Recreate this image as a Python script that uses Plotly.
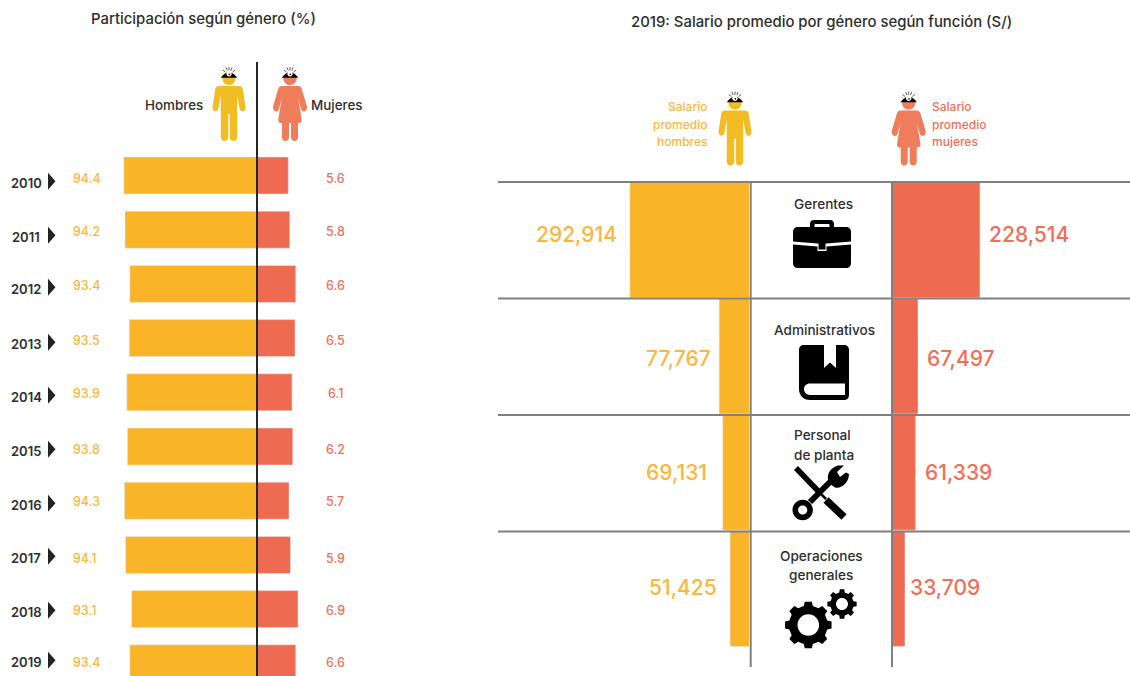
import math
import re

import plotly.graph_objects as go

# Participation by gender, 2010-2019 (%)
years = ["2010", "2011", "2012", "2013", "2014", "2015", "2016", "2017", "2018", "2019"]
men_share = [94.4, 94.2, 93.4, 93.5, 93.9, 93.8, 94.3, 94.1, 93.1, 93.4]
women_share = [5.6, 5.8, 6.6, 6.5, 6.1, 6.2, 5.7, 5.9, 6.9, 6.6]

# 2019 average pay by gender and job function (S/)
functions = ["Gerentes", "Administrativos", "Personal de planta", "Operaciones generales"]
men_pay = [292914, 77767, 69131, 51425]
women_pay = [228514, 67497, 61339, 33709]

W, H = 1130, 676
FONT = "Inter"
AMBER = "#F9B428"
CORAL = "#EE6B52"
AMBER_TEXT = "#FBB73C"
CORAL_TEXT = "#EF6F58"
FIG_AMBER = "#F2BC24"
FIG_CORAL = "#EF7C5A"
INK = "#2E2E2E"
RULE = "#808080"


def px(x):
    return x / W


def py(y):
    return 1 - y / H


def path_px(d):
    """Turn an SVG path written in page pixels into paper coordinates."""
    is_x = True

    def swap(m):
        nonlocal is_x
        v = float(m.group())
        r = px(v) if is_x else py(v)
        is_x = not is_x
        return f"{r:.5f}"

    return re.sub(r"-?\d+(?:\.\d+)?", swap, d)


shapes, notes = [], []


def add_path(d, fill="#000000"):
    shapes.append(dict(type="path", path=path_px(d), xref="paper", yref="paper",
                       fillcolor=fill, line=dict(width=0), layer="above"))


def add_line(x0, y0, x1, y1, color=RULE, width=2):
    shapes.append(dict(type="line", xref="paper", yref="paper", x0=px(x0), y0=py(y0),
                       x1=px(x1), y1=py(y1), line=dict(color=color, width=width), layer="above"))


def circle(cx, cy, r):
    k = 0.5523 * r
    return (f"M{cx - r},{cy} C{cx - r},{cy - k} {cx - k},{cy - r} {cx},{cy - r} "
            f"C{cx + k},{cy - r} {cx + r},{cy - k} {cx + r},{cy} "
            f"C{cx + r},{cy + k} {cx + k},{cy + r} {cx},{cy + r} "
            f"C{cx - k},{cy + r} {cx - r},{cy + k} {cx - r},{cy} Z")


def label(text, x, y, size=13, color=INK, anchor="center", weight=500):
    notes.append(dict(text=text, x=px(x), y=py(y), xref="paper", yref="paper",
                      xanchor=anchor, yanchor="middle", showarrow=False,
                      font=dict(family=FONT, size=size, color=color, weight=weight)))


def helmet(cx, top, color):
    add_path(circle(cx, top - 7.6, 6.6), color)
    add_path(f"M{cx - 8.2},{top - 8.2} C{cx - 6},{top - 11.6} {cx - 3},{top - 13.6} {cx},{top - 13.6} "
             f"C{cx + 3},{top - 13.6} {cx + 6},{top - 11.6} {cx + 8.2},{top - 8.2} Z")
    add_path(circle(cx, top - 12.2, 2.7), "#FFFFFF")
    add_path(circle(cx + 0.3, top - 11.6, 0.8))
    for dx0, dy0, dx1, dy1 in [(-3.6, -14, -6.2, -16), (-1.8, -15.4, -3, -18.6), (0, -15.6, 0, -19),
                               (1.8, -15.4, 3, -18.6), (3.6, -14, 6.2, -16)]:
        add_line(cx + dx0, top + dy0, cx + dx1, top + dy1, "#333333", 0.8)


def mirrored(cx, top, half):
    """Build a closed outline from the right half of a symmetric silhouette."""
    def p(x, y):
        return f"{cx + x},{top + y}"

    right = [f"M{p(*half[0])}"]
    for seg in half[1:]:
        if len(seg) == 2:
            right.append(f"L{p(*seg)}")
        else:
            right.append("C" + " ".join(p(seg[i], seg[i + 1]) for i in (0, 2, 4)))
    pts = [half[0]]
    for seg in half[1:]:
        pts.append(seg[-2:])
    left = []
    for i in range(len(half) - 1, 0, -1):
        seg = half[i]
        end = pts[i - 1]
        if len(seg) == 2:
            left.append(f"L{p(-end[0], end[1])}")
        else:
            left.append(f"C{p(-seg[2], seg[3])} {p(-seg[0], seg[1])} {p(-end[0], end[1])}")
    return " ".join(right + left) + " Z"


MAN_OUTLINE = [
    (0, 0), (10, 0), (12.4, 0, 13.4, 1.4, 13.8, 3.5), (16.4, 20.5), (16.9, 23.5, 15.2, 25.2, 13.4, 25.2),
    (11.8, 25.2, 10.9, 24, 10.5, 22), (8.2, 9), (8.2, 51), (8.2, 53.4, 6.6, 55, 4.5, 55),
    (2.4, 55, 0.8, 53.4, 0.8, 51), (0.8, 28), (0, 28),
]
WOMAN_OUTLINE = [
    (0, 0), (8, 0), (10, 0, 11.2, 1, 11.8, 3), (16.8, 20), (17.6, 23, 15.8, 25.4, 14, 25.4),
    (12.5, 25.4, 11.5, 24.5, 11, 23), (8.2, 12), (11.6, 33), (12, 35.6, 11, 37, 9, 37), (8, 37), (8, 51),
    (8, 53.4, 6.6, 55, 4.6, 55), (2.6, 55, 1, 53.4, 1, 51), (1, 37), (0, 37),
]


def man(cx, top):
    helmet(cx, top, FIG_AMBER)
    add_path(mirrored(cx, top, MAN_OUTLINE), FIG_AMBER)


def woman(cx, top):
    helmet(cx, top, FIG_CORAL)
    add_path(mirrored(cx, top, WOMAN_OUTLINE), FIG_CORAL)


def gear(cx, cy, outer, root, hole, teeth=8):
    pts = []
    for i in range(teeth):
        a = 2 * math.pi * i / teeth - math.pi / 2
        step = 2 * math.pi / teeth
        for off, r in [(-0.30, root), (-0.19, outer), (0.19, outer), (0.30, root)]:
            t = a + off * step
            pts.append((cx + r * math.cos(t), cy + r * math.sin(t)))
    d = "M" + " L".join(f"{x:.2f},{y:.2f}" for x, y in pts) + " Z "
    add_path(d + circle(cx, cy, hole))


# Scales of the four bar panels: pixels per unit and the value sitting on the baseline.
MEN_SHARE_PX, MEN_SHARE_BASE = 6.0, 72.2
WOMEN_SHARE_PX, WOMEN_SHARE_BASE = 7.5, 1.43
MEN_PAY_PX, MEN_PAY_BASE = 0.000415, 5800
WOMEN_PAY_PX, WOMEN_PAY_BASE = 0.000385, 0

LINE_X = 257
SHARE_LEFT, SHARE_RIGHT = 100, 330
PAY_MEN_LEFT, PAY_MEN_RIGHT = 500, 749
PAY_WOMEN_LEFT, PAY_WOMEN_RIGHT = 892, 1130

ROW_TOP, ROW_STEP, ROW_BAR = 175.5, 54.2, 37
SHARE_AREA_TOP = 150

fig = go.Figure()
fig.add_trace(go.Bar(y=years, x=men_share, orientation="h", marker_color=AMBER, width=ROW_BAR / ROW_STEP,
                     xaxis="x", yaxis="y", showlegend=False, hoverinfo="x+y"))
fig.add_trace(go.Bar(y=years, x=women_share, orientation="h", marker_color=CORAL, width=ROW_BAR / ROW_STEP,
                     xaxis="x2", yaxis="y", showlegend=False, hoverinfo="x+y"))
fig.add_trace(go.Bar(y=functions, x=men_pay, orientation="h", marker_color=AMBER, width=0.99,
                     xaxis="x3", yaxis="y3", showlegend=False, hoverinfo="x+y"))
fig.add_trace(go.Bar(y=functions, x=women_pay, orientation="h", marker_color=CORAL, width=0.99,
                     xaxis="x4", yaxis="y3", showlegend=False, hoverinfo="x+y"))


def hidden(**kw):
    return dict(visible=False, showgrid=False, zeroline=False, fixedrange=True, **kw)


layout_axes = dict(
    xaxis=hidden(domain=[px(SHARE_LEFT), px(LINE_X)], anchor="y",
                 range=[MEN_SHARE_BASE + (LINE_X - SHARE_LEFT) / MEN_SHARE_PX, MEN_SHARE_BASE]),
    xaxis2=hidden(domain=[px(LINE_X), px(SHARE_RIGHT)], anchor="y",
                  range=[WOMEN_SHARE_BASE, WOMEN_SHARE_BASE + (SHARE_RIGHT - LINE_X) / WOMEN_SHARE_PX]),
    xaxis3=hidden(domain=[px(PAY_MEN_LEFT), px(PAY_MEN_RIGHT)], anchor="y3",
                  range=[MEN_PAY_BASE + (PAY_MEN_RIGHT - PAY_MEN_LEFT) / MEN_PAY_PX, MEN_PAY_BASE]),
    xaxis4=hidden(domain=[px(PAY_WOMEN_LEFT), px(PAY_WOMEN_RIGHT)], anchor="y3",
                  range=[WOMEN_PAY_BASE, WOMEN_PAY_BASE + (PAY_WOMEN_RIGHT - PAY_WOMEN_LEFT) / WOMEN_PAY_PX]),
    yaxis=hidden(domain=[0, py(SHARE_AREA_TOP)], anchor="x", type="category", categoryorder="array",
                 categoryarray=years,
                 range=[(H - ROW_TOP) / ROW_STEP, (SHARE_AREA_TOP - ROW_TOP) / ROW_STEP]),
    yaxis3=hidden(domain=[py(647), py(182)], anchor="x3", type="category", categoryorder="array",
                  categoryarray=functions, range=[3.5, -0.5]),
)

# Titles and column headings
label("Participación según género (%)", 203, 19, 14.9)
label("2019: Salario promedio por género según función (S/)", 821, 22, 14.9)
label("Hombres", 174, 105, 13.4)
label("Mujeres", 337, 105, 13.4)
for text, y in zip(["Salario", "promedio", "hombres"], [106, 124, 141]):
    label(text, 709, y, 12, AMBER_TEXT, "right")
for text, y in zip(["Salario", "promedio", "mujeres"], [106, 124, 141]):
    label(text, 930, y, 12, CORAL_TEXT, "left")

# Small vertical offsets of the hand-set row labels
year_nudge = [7.5, 7.3, 5.1, 5.9, 4.7, 4.5, 4.3, 3.1, 2.9, -1.3]
share_nudge = [2.5, 2.3, 1.1, 1.9, 0.7, 2.5, 0.3, 3.1, 0.9, -1.3]

for i, yr in enumerate(years):
    yc = ROW_TOP + i * ROW_STEP
    label(yr, 26, yc + year_nudge[i], 13, INK, "center", 600)
    ty = yc + year_nudge[i] - 1.8
    add_path(f"M48,{ty - 8.5:.1f} L55.5,{ty:.1f} L48,{ty + 8.5:.1f} Z", "#222222")
    label(f"{men_share[i]:.1f}", 71, yc + share_nudge[i], 12.5, AMBER_TEXT, "left")
    label(f"{women_share[i]:.1f}", 335, yc + share_nudge[i], 12.5, CORAL_TEXT)

# Pay figures beside each bar
men_pay_right = [619, 713, 709, 719]
women_pay_left = [986.5, 924.5, 922.5, 907.5]
pay_y = [235, 358, 472, 587]
for value, x, y in zip(men_pay, men_pay_right, pay_y):
    label(f"{value:,}", x, y, 21, AMBER_TEXT, "right")
for value, x, y in zip(women_pay, women_pay_left, pay_y):
    label(f"{value:,}", x, y, 21, CORAL_TEXT, "left")

# Function names in the centre column
label("Gerentes", 823, 204, 13.6)
label("Administrativos", 824, 330, 13.6)
label("Personal", 822, 435, 13.6)
label("de planta", 824, 455, 13.6)
label("Operaciones", 821, 556, 13.6)
label("generales", 821, 575, 13.6)

# Table rules
for y in (182, 298.5, 415, 531.5):
    add_line(498, y, 1130, y, RULE, 2)
for x in (750.7, 892):
    add_line(x, 182, x, 667, RULE, 2)
add_line(LINE_X, 62, LINE_X, 676, "#262626", 2)

# Silhouettes
man(229, 86)
woman(290, 86)
man(735, 110.5)
woman(908.7, 110.5)

# Briefcase
add_path("M810,229 L810,224 C810,221.5 811.5,220 814,220 L830,220 C832.5,220 834,221.5 834,224 L834,229 "
         "L829.5,229 L829.5,225 C829.5,224.5 829,224 828.5,224 L815.5,224 C815,224 814.5,224.5 814.5,225 L814.5,229 Z")
add_path("M793,232 C793,229 795,227 798,227 L846,227 C849,227 851,229 851,232 L851,241.5 "
         "L826.5,243.5 L817.5,243.5 L793,241.5 Z")
add_path("M793,244.5 L817.5,246.5 L817.5,251 L826.5,251 L826.5,246.5 L851,244.5 L851,263 "
         "C851,266 849,268 846,268 L798,268 C795,268 793,266 793,263 Z")
add_path("M818.5,241.5 L825.5,241.5 L825.5,249.5 L818.5,249.5 Z")

# Book with ribbon
add_path("M804,345 L824,345 L824,368 L830,362.5 L836,368 L836,345 L844,345 C847,345 849,347 849,350 "
         "L849,395 C849,398 847,400 844,400 L810,400 C803.5,400 799,395.5 799,389 L799,350 C799,347 801,345 804,345 Z "
         "M810,383.5 C806.5,383.5 804,386 804,389 C804,392 806.5,395 810,395 L845,395 L845,383.5 Z")

# Crossed screwdriver and wrench
add_line(796, 468, 820, 493, "#000000", 5.5)
add_line(818, 491, 826, 499, "#000000", 2.5)
add_line(826, 500, 844, 517, "#000000", 7.5)
add_path(circle(802.7, 510, 10.2) + " " + circle(802.7, 510, 4.6))
add_line(810, 502, 833, 479, "#000000", 6)
add_path("M830,484 C825,477 829,468 838,465.5 L844,465.5 L837,472 L840,477 L846,472.5 L849,474 "
         "C849,482 842,489 835,487.5 Z")

# Gears
gear(808.3, 625, 23.5, 19.5, 10.8)
gear(842, 604, 14.8, 11.8, 6)

fig.update_layout(
    width=W, height=H, autosize=False,
    margin=dict(l=0, r=0, t=0, b=0),
    paper_bgcolor="#FFFFFF", plot_bgcolor="rgba(0,0,0,0)",
    barmode="overlay", showlegend=False,
    font=dict(family=FONT),
    shapes=shapes, annotations=notes,
    **layout_axes,
)

fig.write_html("out.html", config=dict(displayModeBar=False))
